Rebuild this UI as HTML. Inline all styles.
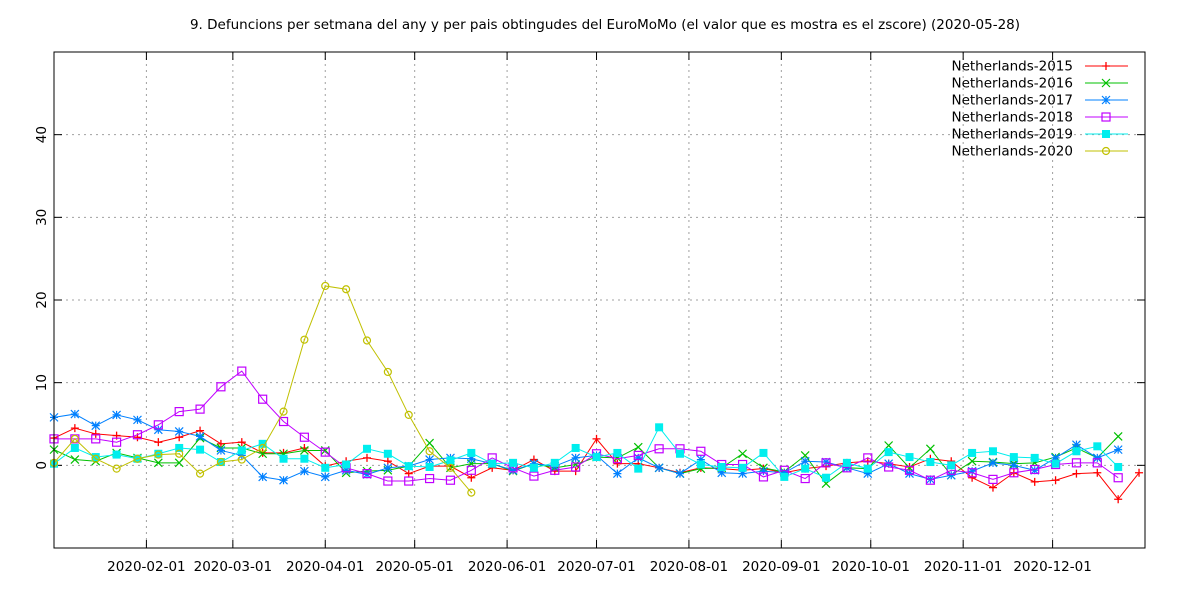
<!DOCTYPE html>
<html><head><meta charset="utf-8"><style>
body{margin:0;background:#fff}
svg{display:block;font-family:"DejaVu Sans","Liberation Sans",sans-serif}
</style></head><body>
<svg id="chart" width="1200" height="600" viewBox="0 0 1200 600">
<text x="605" y="29" text-anchor="middle" font-size="13.5">9. Defuncions per setmana del any y per pais obtingudes del EuroMoMo (el valor que es mostra es el zscore) (2020-05-28)</text>
<g id="grid"></g><g id="axes"></g><g id="series"></g><g id="legend"></g>
<rect x="54" y="52" width="1091" height="496" fill="none" stroke="#000" stroke-width="1"/>
</svg>
<script>
const yTicks=[0,10,20,30,40];
const xTickLabels=["2020-02-01","2020-03-01","2020-04-01","2020-05-01","2020-06-01","2020-07-01","2020-08-01","2020-09-01","2020-10-01","2020-11-01","2020-12-01"];
const xTickDays=[31,60,91,121,152,182,213,244,274,305,335];
const seriesNames=["Netherlands-2015","Netherlands-2016","Netherlands-2017","Netherlands-2018","Netherlands-2019","Netherlands-2020"];
const s2015=[3.3,4.5,3.8,3.6,3.4,2.8,3.4,4.2,2.6,2.8,1.5,1.5,2.1,-0.1,0.5,0.9,0.5,-1.0,-0.1,-0.1,-1.5,-0.3,-0.6,0.7,-0.7,-0.7,3.2,0.2,0.2,-0.3,-0.9,-0.3,-0.4,-0.6,-0.4,-0.9,-0.4,-0.1,0.3,0.5,0.2,-0.2,0.8,0.5,-1.5,-2.7,-0.9,-2.0,-1.8,-1.0,-0.9,-4.1,-0.9];
const s2016=[1.9,0.7,0.5,1.5,0.9,0.3,0.3,3.3,2.1,2.1,1.4,1.4,1.8,1.8,-0.9,-0.7,-0.6,-0.1,2.7,-0.3,0.2,0.2,-0.7,0.2,-0.3,0.1,1.0,0.9,2.2,-0.3,-1.0,-0.4,-0.3,1.4,-0.3,-0.8,1.2,-2.2,-0.3,-0.4,2.4,-0.3,2.0,-1.2,0.5,0.4,0.2,0.3,1.0,2.1,0.9,3.5];
const s2017=[5.8,6.2,4.8,6.1,5.5,4.3,4.1,3.5,1.8,1.2,-1.4,-1.8,-0.7,-1.4,-0.6,-1.1,-0.3,-0.1,0.7,0.9,0.8,0.2,-0.6,0.2,-0.1,0.9,1.2,-1.0,0.9,-0.3,-1.0,0.7,-0.9,-1.0,-0.7,-0.9,0.5,0.4,-0.3,-1.0,0.2,-1.0,-1.7,-1.2,-0.7,0.3,0.0,-0.6,0.9,2.5,0.9,1.9];
const s2018=[3.2,3.2,3.2,2.8,3.7,4.9,6.5,6.8,9.5,11.4,8.0,5.3,3.4,1.6,-0.3,-1.0,-1.9,-1.9,-1.6,-1.8,-0.6,0.9,-0.3,-1.3,-0.6,-0.2,1.4,0.8,1.2,2.0,2.0,1.7,0.1,0.1,-1.4,-0.6,-1.6,0.3,-0.3,0.9,-0.2,-0.6,-1.8,-0.6,-0.9,-1.7,-0.9,-0.5,0.1,0.3,0.3,-1.5];
const s2019=[0.2,2.1,1.0,1.3,0.8,1.4,2.1,1.9,0.4,1.8,2.6,0.8,0.8,-0.3,0.1,2.0,1.4,-0.1,-0.2,0.6,1.5,0.2,0.3,-0.3,0.3,2.1,1.0,1.5,-0.4,4.6,1.4,0.1,-0.2,-0.3,1.5,-1.4,-0.4,-1.5,0.3,-0.4,1.6,1.0,0.4,0.0,1.5,1.7,1.0,0.9,0.2,1.7,2.3,-0.2];
const s2020=[0.3,3.2,0.8,-0.4,0.8,1.3,1.4,-1.0,0.4,0.7,2.1,6.5,15.2,21.7,21.3,15.1,11.3,6.1,1.7,-0.3,-3.3];

const NS="http://www.w3.org/2000/svg";
const L=54,R=1145,T=52,B=548,yMin=-10,yMax=50,dMax=366;
const xs=d=>L+(R-L)*d/dMax;
const ys=v=>B-(B-T)*(v-yMin)/(yMax-yMin);
function el(tag,attrs,parent){const e=document.createElementNS(NS,tag);for(const k in attrs)e.setAttribute(k,attrs[k]);parent.appendChild(e);return e;}
const grid=document.getElementById('grid'),axes=document.getElementById('axes'),ser=document.getElementById('series'),leg=document.getElementById('legend');
yTicks.forEach(v=>{
  const y=ys(v);
  const g=el('line',{x1:L,x2:R,y1:y,y2:y,stroke:'#a0a0a0','stroke-dasharray':'2,4'},grid);
  
  
  el('line',{x1:L,x2:L+8,y1:y,y2:y,stroke:'#000'},axes);
  el('line',{x1:R,x2:R-8,y1:y,y2:y,stroke:'#000'},axes);
  const t=el('text',{x:0,y:0,'font-size':13.5,'text-anchor':'middle',transform:`translate(46,${y}) rotate(-90)`},axes);
  t.textContent=v;
  
  
});
xTickDays.forEach((d,i)=>{
  const x=xs(d);
  const g=el('line',{x1:x,x2:x,y1:T,y2:B,stroke:'#a0a0a0','stroke-dasharray':'2,4'},grid);
  
  
  el('line',{x1:x,x2:x,y1:B,y2:B-8,stroke:'#000'},axes);
  el('line',{x1:x,x2:x,y1:T,y2:T+8,stroke:'#000'},axes);
  const t=el('text',{x:x,y:571,'font-size':13.5,'text-anchor':'middle'},axes);
  t.textContent=xTickLabels[i];
  
  
});
const colors=['#ff0000','#00c000','#0080ff','#c000ff','#00eeee','#c0c000'];
const data=[s2015,s2016,s2017,s2018,s2019,s2020];
function marker(k,x,y,c,g){
  const s=4;
  if(k===0){el('path',{d:`M${x-s} ${y}H${x+s}M${x} ${y-s}V${y+s}`,stroke:c,'stroke-width':1.3,fill:'none'},g);}
  else if(k===1){el('path',{d:`M${x-s} ${y-s}L${x+s} ${y+s}M${x-s} ${y+s}L${x+s} ${y-s}`,stroke:c,'stroke-width':1.2,fill:'none'},g);}
  else if(k===2){el('path',{d:`M${x-s} ${y}H${x+s}M${x} ${y-s}V${y+s}M${x-s} ${y-s}L${x+s} ${y+s}M${x-s} ${y+s}L${x+s} ${y-s}`,stroke:c,'stroke-width':1.2,fill:'none'},g);}
  else if(k===3){el('rect',{x:x-s,y:y-s,width:2*s,height:2*s,stroke:c,'stroke-width':1.2,fill:'none'},g);}
  else if(k===4){el('rect',{x:x-s,y:y-s,width:2*s,height:2*s,fill:c},g);}
  else {el('circle',{cx:x,cy:y,r:3.5,stroke:c,'stroke-width':1.2,fill:'none'},g);el('circle',{cx:x,cy:y,r:0.8,fill:c},g);}
}
data.forEach((arr,k)=>{
  const g=el('g',{},ser);
  
  
  const pts=arr.map((v,i)=>[xs(i*7),ys(v)]);
  el('polyline',{points:pts.map(p=>p.join(',')).join(' '),fill:'none',stroke:colors[k],'stroke-width':1},g);
  pts.forEach(p=>marker(k,p[0],p[1],colors[k],g));
  const ly=66+k*17;
  const lg=el('g',{},leg);
  
  
  const t=el('text',{x:1073,y:ly+4.5,'font-size':13.5,'text-anchor':'end'},lg);
  t.textContent=seriesNames[k];
  el('line',{x1:1085,x2:1128,y1:ly,y2:ly,stroke:colors[k]},lg);
  marker(k,1106,ly,colors[k],lg);
});
</script>
</body></html>
